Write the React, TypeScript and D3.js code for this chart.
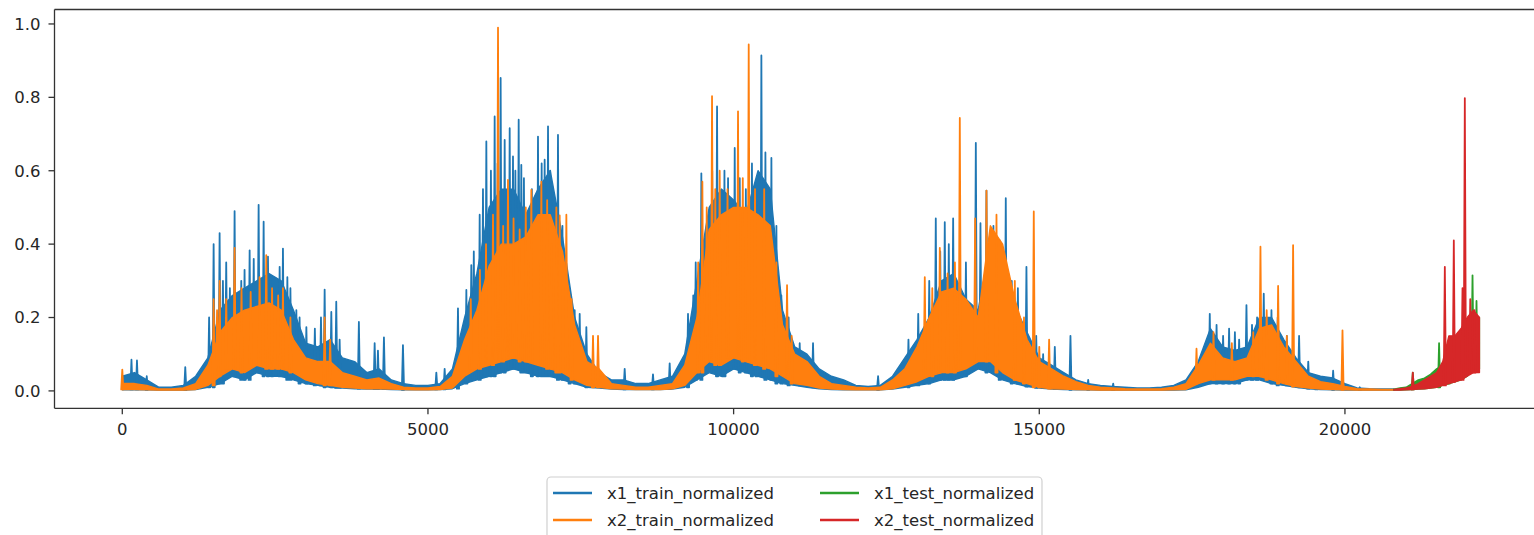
import React, { useEffect, useRef } from "react";
import * as d3 from "d3";

// train series: body envelope sampled every 200 steps, starting at 0
const trainStep = 200;
const x1TrainHi = [
  0.04, 0.05, 0.03, 0.01, 0.01, 0.015, 0.04, 0.09, 0.22, 0.26,
  0.28, 0.3, 0.32, 0.3, 0.22, 0.13, 0.12, 0.14, 0.09, 0.08,
  0.05, 0.06, 0.03, 0.02, 0.015, 0.015, 0.02, 0.06, 0.2, 0.32,
  0.5, 0.55, 0.55, 0.48, 0.55, 0.6, 0.42, 0.2, 0.1, 0.05,
  0.03, 0.03, 0.02, 0.02, 0.03, 0.04, 0.1, 0.3, 0.5, 0.55,
  0.52, 0.48, 0.6, 0.55, 0.22, 0.12, 0.1, 0.06, 0.04, 0.03,
  0.015, 0.012, 0.015, 0.04, 0.09, 0.14, 0.2, 0.3, 0.32, 0.25,
  0.22, 0.4, 0.38, 0.23, 0.16, 0.09, 0.07, 0.05, 0.03, 0.02,
  0.015, 0.012, 0.01, 0.008, 0.008, 0.01, 0.015, 0.03, 0.08, 0.17,
  0.12, 0.11, 0.12, 0.2, 0.2, 0.14, 0.09, 0.05, 0.04, 0.035,
  0.02, 0.008, 0.006, 0.005, 0.005,
];
const x1TrainLo = [
  0.003, 0.004, 0.003, 0.002, 0.002, 0.002, 0.004, 0.01, 0.02, 0.04,
  0.03, 0.05, 0.04, 0.04, 0.03, 0.02, 0.015, 0.01, 0.008, 0.006,
  0.005, 0.005, 0.004, 0.003, 0.003, 0.003, 0.004, 0.006, 0.02, 0.03,
  0.04, 0.05, 0.06, 0.05, 0.04, 0.04, 0.03, 0.02, 0.01, 0.008,
  0.005, 0.004, 0.004, 0.004, 0.004, 0.005, 0.01, 0.03, 0.05, 0.04,
  0.06, 0.05, 0.04, 0.03, 0.02, 0.015, 0.01, 0.006, 0.004, 0.003,
  0.003, 0.003, 0.003, 0.005, 0.01, 0.015, 0.02, 0.03, 0.03, 0.04,
  0.06, 0.05, 0.03, 0.02, 0.012, 0.008, 0.005, 0.004, 0.003, 0.003,
  0.002, 0.002, 0.002, 0.002, 0.002, 0.002, 0.002, 0.003, 0.01, 0.02,
  0.02, 0.02, 0.03, 0.03, 0.02, 0.015, 0.01, 0.006, 0.004, 0.003,
  0.002, 0.002, 0.002, 0.002, 0.002,
];
const x2TrainHi = [
  0.02, 0.02, 0.015, 0.005, 0.005, 0.008, 0.02, 0.07, 0.16, 0.2,
  0.22, 0.23, 0.24, 0.22, 0.14, 0.09, 0.08, 0.08, 0.05, 0.04,
  0.03, 0.035, 0.02, 0.01, 0.008, 0.008, 0.012, 0.04, 0.14, 0.22,
  0.34, 0.4, 0.4, 0.42, 0.48, 0.48, 0.38, 0.18, 0.08, 0.06,
  0.02, 0.015, 0.01, 0.01, 0.015, 0.02, 0.07, 0.2, 0.44, 0.48,
  0.5, 0.5, 0.48, 0.45, 0.18, 0.1, 0.08, 0.04, 0.02, 0.015,
  0.01, 0.008, 0.01, 0.03, 0.06, 0.12, 0.2, 0.27, 0.28, 0.25,
  0.2, 0.45, 0.4, 0.25, 0.14, 0.08, 0.06, 0.04, 0.025, 0.015,
  0.01, 0.008, 0.006, 0.005, 0.005, 0.006, 0.01, 0.02, 0.07, 0.13,
  0.09, 0.08, 0.09, 0.17, 0.18, 0.12, 0.08, 0.04, 0.025, 0.02,
  0.012, 0.006, 0.005, 0.004, 0.004,
];
const x2TrainLo = [
  0.004, 0.004, 0.003, 0.002, 0.002, 0.002, 0.004, 0.015, 0.04, 0.06,
  0.05, 0.07, 0.06, 0.06, 0.05, 0.03, 0.02, 0.015, 0.01, 0.008,
  0.006, 0.006, 0.005, 0.004, 0.003, 0.003, 0.004, 0.008, 0.04, 0.06,
  0.07, 0.08, 0.09, 0.08, 0.07, 0.06, 0.05, 0.03, 0.015, 0.01,
  0.006, 0.005, 0.004, 0.004, 0.004, 0.006, 0.015, 0.05, 0.08, 0.07,
  0.09, 0.08, 0.07, 0.06, 0.04, 0.02, 0.015, 0.008, 0.005, 0.004,
  0.003, 0.003, 0.003, 0.006, 0.015, 0.025, 0.04, 0.05, 0.05, 0.06,
  0.08, 0.08, 0.05, 0.03, 0.02, 0.01, 0.006, 0.005, 0.004, 0.003,
  0.002, 0.002, 0.002, 0.002, 0.002, 0.002, 0.003, 0.004, 0.02, 0.03,
  0.03, 0.03, 0.04, 0.04, 0.03, 0.02, 0.012, 0.008, 0.005, 0.004,
  0.003, 0.002, 0.002, 0.002, 0.002,
];

// isolated peaks [index, value]
const x1TrainPeaks = [
  [150, 0.085], [240, 0.083], [400, 0.04], [1030, 0.065], [1420, 0.2], [1494, 0.4],
  [1592, 0.43], [1646, 0.3], [1700, 0.35], [1760, 0.28], [1837, 0.49], [1946, 0.3],
  [2000, 0.33], [2083, 0.383], [2150, 0.36], [2230, 0.507], [2312, 0.461], [2383, 0.366],
  [2450, 0.3], [2574, 0.338], [2628, 0.388], [2700, 0.31], [2750, 0.28], [2847, 0.22],
  [2900, 0.2], [3011, 0.174], [3150, 0.17], [3250, 0.2], [3310, 0.276], [3419, 0.215],
  [3500, 0.243], [3555, 0.14], [3870, 0.188], [4128, 0.13], [4182, 0.11], [4280, 0.146],
  [4591, 0.125], [5137, 0.05], [5273, 0.06], [5491, 0.225], [5628, 0.275], [5709, 0.343],
  [5750, 0.38], [5846, 0.48], [5900, 0.55], [5955, 0.68], [6030, 0.6], [6091, 0.748],
  [6140, 0.62], [6189, 0.853], [6255, 0.684], [6337, 0.716], [6391, 0.639], [6430, 0.6],
  [6484, 0.739], [6527, 0.616], [6570, 0.58], [6609, 0.48], [6700, 0.55], [6800, 0.693],
  [6860, 0.62], [6909, 0.63], [6964, 0.721], [7000, 0.6], [7046, 0.55], [7127, 0.698],
  [7200, 0.45], [7250, 0.3], [7318, 0.23], [7400, 0.22], [7482, 0.21], [7591, 0.174],
  [8218, 0.06], [8681, 0.045], [8954, 0.075], [9254, 0.21], [9340, 0.26], [9380, 0.35],
  [9472, 0.593], [9560, 0.45], [9650, 0.6], [9729, 0.775], [9827, 0.5], [9850, 0.6],
  [9909, 0.58], [10018, 0.662], [10100, 0.58], [10200, 0.55], [10300, 0.62], [10372, 0.56],
  [10454, 0.914], [10520, 0.65], [10618, 0.635], [10700, 0.45], [10781, 0.26], [10900, 0.2],
  [11081, 0.13], [11299, 0.13], [12363, 0.04], [12860, 0.14], [13020, 0.21], [13200, 0.3],
  [13307, 0.47], [13380, 0.38], [13454, 0.46], [13520, 0.4], [13591, 0.47], [13800, 0.35],
  [13962, 0.676], [14038, 0.457], [14136, 0.546], [14250, 0.45], [14354, 0.41],
  [14452, 0.525], [14550, 0.3], [14650, 0.28], [14790, 0.338], [14950, 0.15], [15063, 0.1],
  [15254, 0.12], [15510, 0.15], [15800, 0.03], [16209, 0.02], [17700, 0.12], [17789, 0.21],
  [17900, 0.18], [18007, 0.15], [18105, 0.17], [18200, 0.16], [18269, 0.14], [18389, 0.234],
  [18480, 0.18], [18563, 0.2], [18672, 0.265], [18798, 0.22], [18900, 0.2], [19050, 0.15],
  [19250, 0.15], [19400, 0.08], [19534, 0.04], [19807, 0.055], [20243, 0.01],
];
const x2TrainPeaks = [
  [0, 0.058], [1494, 0.25], [1550, 0.22], [1592, 0.3], [1700, 0.25], [1837, 0.39],
  [1950, 0.28], [2100, 0.27], [2246, 0.31], [2355, 0.37], [2450, 0.28], [2550, 0.26],
  [2628, 0.28], [2750, 0.2], [3310, 0.2], [3400, 0.14], [5700, 0.25], [5850, 0.33],
  [5950, 0.4], [6064, 0.48], [6146, 0.99], [6230, 0.45], [6309, 0.575], [6400, 0.47],
  [6500, 0.44], [6600, 0.5], [6691, 0.548], [6855, 0.57], [6950, 0.52], [7018, 0.4],
  [7100, 0.5], [7155, 0.478], [7264, 0.48], [7350, 0.25], [7700, 0.15], [7782, 0.15],
  [9420, 0.35], [9489, 0.57], [9560, 0.5], [9647, 0.803], [9700, 0.55], [9772, 0.6],
  [9900, 0.55], [10072, 0.762], [10150, 0.58], [10247, 0.944], [10350, 0.55], [10500, 0.55],
  [10700, 0.35], [10874, 0.288], [10950, 0.15], [13127, 0.31], [13250, 0.28], [13373, 0.39],
  [13500, 0.32], [13620, 0.35], [13700, 0.744], [13951, 0.47], [14136, 0.546], [14300, 0.48],
  [14600, 0.3], [14750, 0.2], [14910, 0.489], [15000, 0.12], [15161, 0.14], [17572, 0.115],
  [17850, 0.16], [18150, 0.13], [18500, 0.16], [18618, 0.393], [18720, 0.22], [18907, 0.286],
  [19050, 0.15], [19152, 0.397], [19960, 0.165],
];

// test series: sampled every 100 steps, starting at 20800
const testStart = 20800;
const testStep = 100;
const x1TestHi = [0.005, 0.008, 0.01, 0.02, 0.03, 0.035, 0.045, 0.06, 0.07, 0.09, 0.11, 0.13, 0.17, 0.2, 0.2];
const x1TestLo = [0.002, 0.002, 0.003, 0.004, 0.005, 0.006, 0.008, 0.01, 0.015, 0.02, 0.025, 0.03, 0.04, 0.06, 0.06];
const x2TestHi = [0.004, 0.006, 0.008, 0.012, 0.02, 0.03, 0.04, 0.05, 0.08, 0.15, 0.15, 0.17, 0.2, 0.22, 0.2];
const x2TestLo = [0.002, 0.002, 0.003, 0.004, 0.005, 0.006, 0.008, 0.01, 0.015, 0.02, 0.025, 0.03, 0.04, 0.05, 0.05];
const x1TestPeaks = [[21110, 0.05], [21540, 0.13], [21700, 0.1], [22087, 0.315], [22152, 0.245]];
const x2TestPeaks = [
  [21110, 0.05], [21634, 0.338], [21781, 0.41], [21923, 0.28], [21961, 0.798], [22050, 0.25], [22120, 0.22],
];
const lastIndex = 22180;

const xTicks = [0, 5000, 10000, 15000, 20000];
const yTicks = [0, 0.2, 0.4, 0.6, 0.8, 1.0];

const seriesNames = ["x1_train_normalized", "x2_train_normalized", "x1_test_normalized", "x2_test_normalized"];
const colors = ["#1f77b4", "#ff7f0e", "#2ca02c", "#d62728"];

const W = 1534;
const H = 535;
const FONT = "DejaVu Sans, sans-serif";

const App = () => {
  const ref = useRef(null);

  useEffect(() => {
    const svg = d3.select(ref.current);
    svg.selectAll("*").remove();

    const series = [
      { hi: x1TrainHi, lo: x1TrainLo, peaks: x1TrainPeaks, start: 0, step: trainStep },
      { hi: x2TrainHi, lo: x2TrainLo, peaks: x2TrainPeaks, start: 0, step: trainStep },
      { hi: x1TestHi, lo: x1TestLo, peaks: x1TestPeaks, start: testStart, step: testStep },
      { hi: x2TestHi, lo: x2TestLo, peaks: x2TestPeaks, start: testStart, step: testStep },
    ];

    // matplotlib style 5% margins
    const xPad = lastIndex * 0.05;
    const allVals = series.flatMap((s) => [...s.hi, ...s.lo, ...s.peaks.map((p) => p[1])]);
    const yMin = d3.min(allVals);
    const yMax = d3.max(allVals);
    const yPad = (yMax - yMin) * 0.05;

    const left = 54.5;
    const right = 1546;
    const top = 9.5;
    const bottom = 408.3;

    const x = d3.scaleLinear().domain([-xPad, lastIndex + xPad]).range([left, right]);
    const y = d3.scaleLinear().domain([yMin - yPad, yMax + yPad]).range([bottom, top]);

    const clip = svg.append("defs").append("clipPath").attr("id", "plotclip");
    clip.append("rect").attr("x", left).attr("y", top).attr("width", right - left).attr("height", bottom - top);

    const plot = svg.append("g").attr("clip-path", "url(#plotclip)");

    series.forEach((s, k) => {
      const pts = s.hi.map((h, i) => ({ i: s.start + i * s.step, hi: h, lo: s.lo[i] }));
      const area = d3
        .area()
        .x((d) => x(d.i))
        .y0((d) => y(d.lo))
        .y1((d) => y(d.hi));

      plot
        .append("path")
        .attr("d", area(pts))
        .attr("fill", colors[k])
        .attr("stroke", colors[k])
        .attr("stroke-width", 1.4)
        .attr("stroke-linejoin", "round");

      // spikes rising out of the band
      const spikePath = s.peaks
        .map(([i, v]) => {
          const bin = Math.max(0, Math.min(s.lo.length - 1, Math.round((i - s.start) / s.step)));
          const base = s.lo[bin];
          return `M${x(i - 18)},${y(base)}L${x(i)},${y(v)}L${x(i + 18)},${y(base)}Z`;
        })
        .join("");
      plot
        .append("path")
        .attr("d", spikePath)
        .attr("fill", colors[k])
        .attr("stroke", colors[k])
        .attr("stroke-width", 1.8)
        .attr("stroke-linejoin", "round");
    });

    // spines
    const frame = svg.append("g").attr("stroke", "#333").attr("stroke-width", 1.3).attr("fill", "none");
    frame.append("line").attr("x1", left).attr("x2", right).attr("y1", top).attr("y2", top);
    frame.append("line").attr("x1", left).attr("x2", right).attr("y1", bottom).attr("y2", bottom);
    frame.append("line").attr("x1", left).attr("x2", left).attr("y1", top).attr("y2", bottom);
    frame.append("line").attr("x1", right).attr("x2", right).attr("y1", top).attr("y2", bottom);

    // y axis
    yTicks.forEach((t) => {
      svg
        .append("line")
        .attr("x1", left - 6)
        .attr("x2", left)
        .attr("y1", y(t))
        .attr("y2", y(t))
        .attr("stroke", "#333")
        .attr("stroke-width", 1.3);
      svg
        .append("text")
        .attr("x", left - 14)
        .attr("y", y(t))
        .attr("dy", "0.35em")
        .attr("text-anchor", "end")
        .style("font-family", FONT)
        .style("font-size", "16.5px")
        .attr("fill", "#262626")
        .text(d3.format(".1f")(t));
    });

    // x axis
    xTicks.forEach((t) => {
      svg
        .append("line")
        .attr("x1", x(t))
        .attr("x2", x(t))
        .attr("y1", bottom)
        .attr("y2", bottom + 6)
        .attr("stroke", "#333")
        .attr("stroke-width", 1.3);
      svg
        .append("text")
        .attr("x", x(t))
        .attr("y", bottom + 27)
        .attr("text-anchor", "middle")
        .style("font-family", FONT)
        .style("font-size", "16.5px")
        .attr("fill", "#262626")
        .text(String(t));
    });

    // legend, two columns
    const legend = svg.append("g");
    legend
      .append("rect")
      .attr("x", 547)
      .attr("y", 477)
      .attr("width", 495)
      .attr("height", 72)
      .attr("rx", 4)
      .attr("fill", "white")
      .attr("fill-opacity", 0.8)
      .attr("stroke", "#d0d0d0")
      .attr("stroke-width", 1.2);

    seriesNames.forEach((name, k) => {
      const col = Math.floor(k / 2);
      const row = k % 2;
      const lx = col === 0 ? 553 : 820;
      const ly = row === 0 ? 493 : 520;
      legend
        .append("line")
        .attr("x1", lx)
        .attr("x2", lx + 39)
        .attr("y1", ly)
        .attr("y2", ly)
        .attr("stroke", colors[k])
        .attr("stroke-width", 2.4);
      legend
        .append("text")
        .attr("x", lx + 54)
        .attr("y", ly)
        .attr("dy", "0.35em")
        .style("font-family", FONT)
        .style("font-size", "16.5px")
        .attr("fill", "#262626")
        .text(name);
    });

    return () => {
      svg.selectAll("*").remove();
    };
  }, []);

  return (
    <svg
      ref={ref}
      width={W}
      height={H}
      style={{ position: "absolute", left: 0, top: 0, background: "white" }}
    />
  );
};

export default App;
